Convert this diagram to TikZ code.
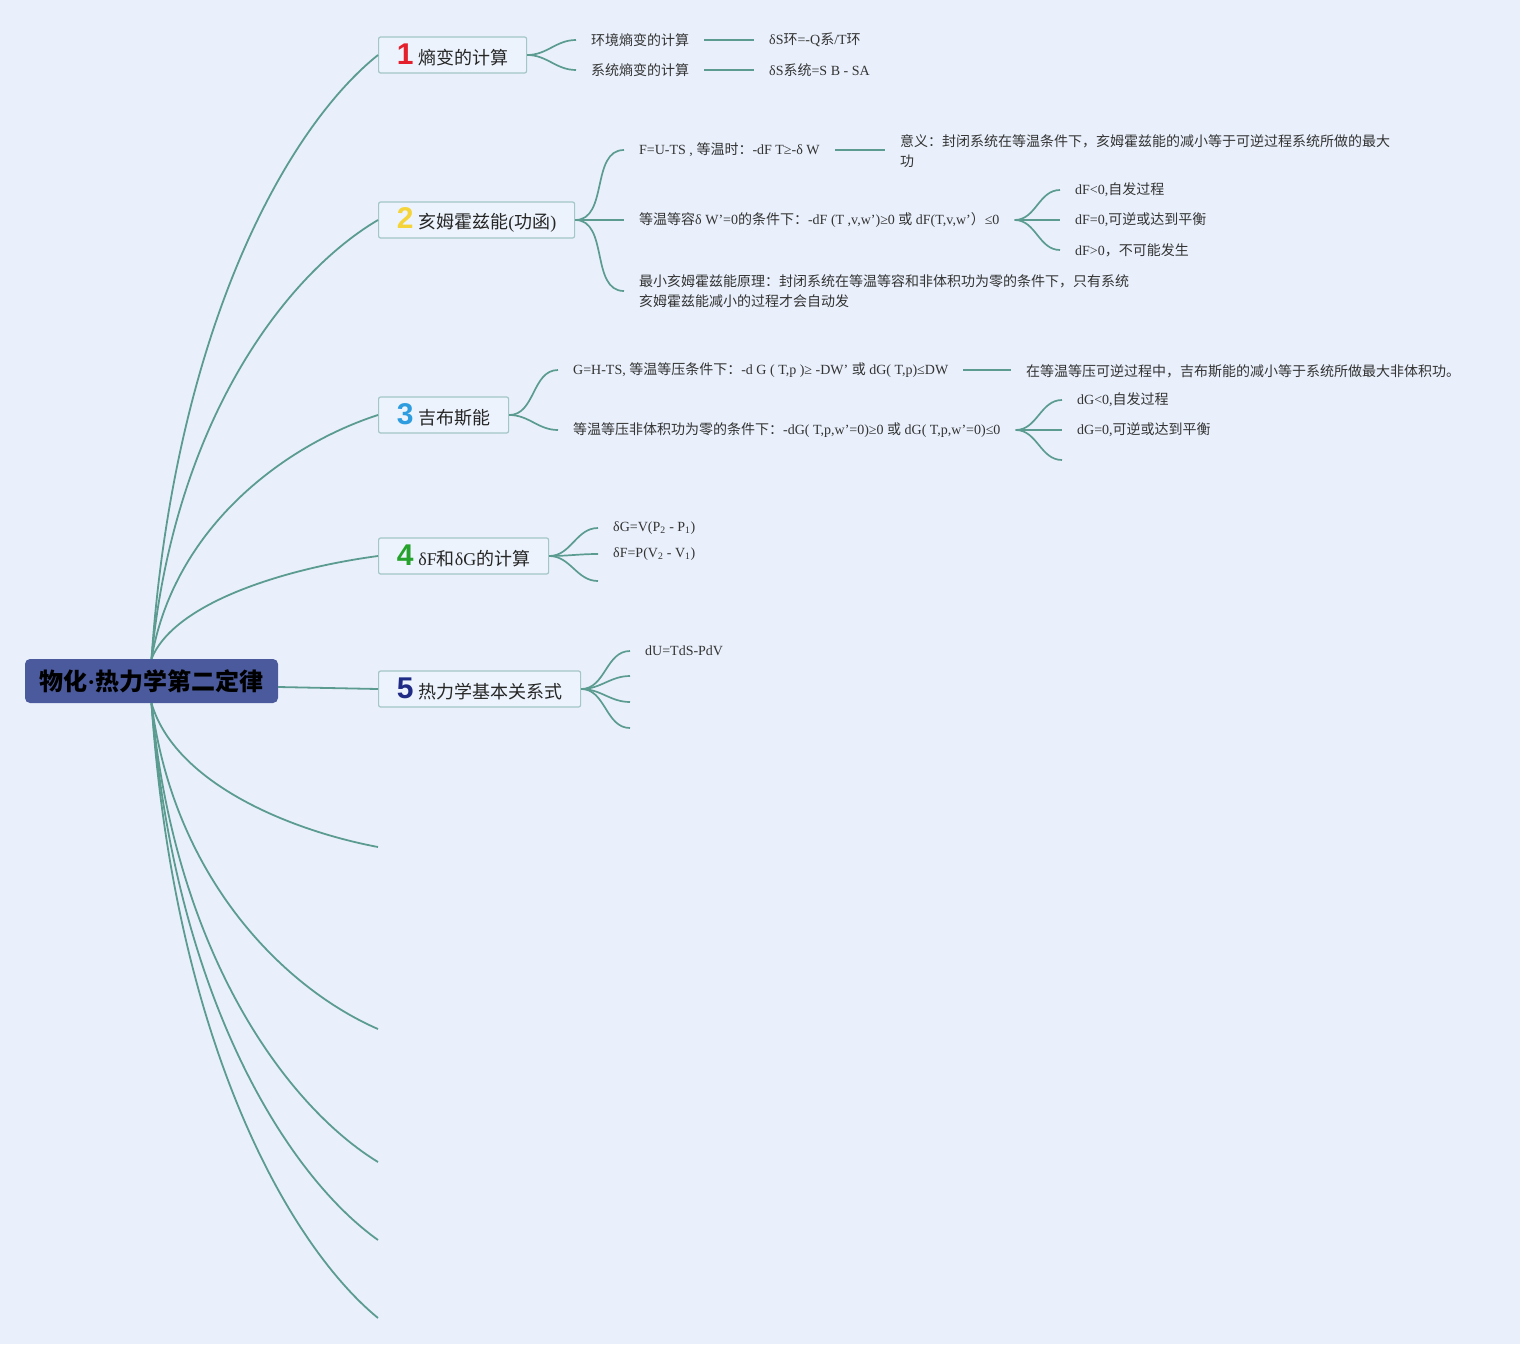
\documentclass[tikz,border=0pt]{standalone}
\usepackage{fontspec}
\setmainfont{Liberation Serif}
\newfontfamily\cjk{Noto Sans CJK SC}
\newfontfamily\numfont{Liberation Sans}
\usepackage{xcolor}
\usepackage{tikz}
\usetikzlibrary{positioning}
\usetikzlibrary{calc}

% CJK characters switch to the CJK family by themselves
\XeTeXinterchartokenstate=1
\newXeTeXintercharclass\cjkclass
\newcount\cc
\cc="3000 \loop\ifnum\cc<"3040 \XeTeXcharclass\cc=\cjkclass \advance\cc1 \repeat
\cc="4E00 \loop\ifnum\cc<"A000 \XeTeXcharclass\cc=\cjkclass \advance\cc1 \repeat
\cc="FF00 \loop\ifnum\cc<"FFF0 \XeTeXcharclass\cc=\cjkclass \advance\cc1 \repeat
\XeTeXinterchartoks 0 \cjkclass={\cjk}
\XeTeXinterchartoks 4095 \cjkclass={\cjk}
\XeTeXinterchartoks \cjkclass 0={\rmfamily}
\XeTeXinterchartoks \cjkclass 4095={\rmfamily}

\definecolor{bgblue}{HTML}{E9F0FB}
\definecolor{linecol}{HTML}{5B9B90}
\definecolor{boxline}{HTML}{A3C6C6}
\definecolor{boxfill}{HTML}{ECF3FC}
\definecolor{rootblue}{HTML}{4A5A9C}
\definecolor{txtgray}{HTML}{333333}
\definecolor{numred}{HTML}{E3202C}
\definecolor{numyellow}{HTML}{F5D43A}
\definecolor{numblue}{HTML}{2E9DDF}
\definecolor{numgreen}{HTML}{25A22B}
\definecolor{numnavy}{HTML}{1F2B84}

\newcommand{\tnum}[2]{{\color{#1}\numfont\bfseries\fontsize{30}{30}\selectfont #2}\hspace{5pt}}

\tikzset{
  branch/.style={draw=linecol, line width=1.8pt},
  fan/.style={draw=linecol, line width=1.7pt},
  rootbox/.style={fill=rootblue, rounded corners=5pt, minimum width=253, minimum height=44, inner sep=0pt, text=black, font=\fontsize{24}{28}\selectfont\bfseries},
  topic/.style={draw=boxline, fill=boxfill, line width=1.2pt, rounded corners=2pt, minimum height=36, inner xsep=0pt, inner ysep=4pt, anchor=west, text=black!85, font=\fontsize{18}{22}\selectfont},
  leaf/.style={inner xsep=15pt, inner ysep=3pt, anchor=west, align=left, text=txtgray, font=\fontsize{14}{20}\selectfont}
}

\begin{document}
\begin{tikzpicture}[x=1pt, y=-1pt]
\path[fill=bgblue] (0,0) rectangle (1520,1344);

\node[rootbox] (root) at (151.5,681) {物化·热力学第二定律};

\node[topic, minimum width=148] (t1) at (378,55) {\tnum{numred}{1}熵变的计算};
\node[topic, minimum width=196] (t2) at (378,220) {\tnum{numyellow}{2}亥姆霍兹能(功函)};
\node[topic, minimum width=130] (t3) at (378,415) {\tnum{numblue}{3}吉布斯能};
\node[topic, minimum width=170] (t4) at (378,556) {\tnum{numgreen}{4}δF和δG的计算};
\node[topic, minimum width=202] (t5) at (378,689) {\tnum{numnavy}{5}热力学基本关系式};

\coordinate (e1) at (378,847);
\coordinate (e2) at (378,1029);
\coordinate (e3) at (378,1162);
\coordinate (e4) at (378,1240);
\coordinate (e5) at (378,1318);

\draw[branch] (root.north) .. controls +(23,-332) and +(-90,72) .. (t1.west);
\draw[branch] (root.north) .. controls +(23,-241) and +(-90,53) .. (t2.west);
\draw[branch] (root.north) .. controls +(23,-134) and +(-90,29) .. (t3.west);
\draw[branch] (root.north) .. controls +(23,-57) and +(-90,12) .. (t4.west);
\draw[branch] ($(root.east)+(0,6)$) -- (t5.west);
\draw[branch] (root.south) .. controls +(23,79) and +(-90,-17) .. (e1);
\draw[branch] (root.south) .. controls +(23,179) and +(-90,-39) .. (e2);
\draw[branch] (root.south) .. controls +(23,252) and +(-90,-55) .. (e3);
\draw[branch] (root.south) .. controls +(23,295) and +(-90,-64) .. (e4);
\draw[branch] (root.south) .. controls +(23,338) and +(-90,-74) .. (e5);

% 1
\node[leaf] (s11) at (576,40) {环境熵变的计算};
\node[leaf] (s12) at (576,70) {系统熵变的计算};
\node[leaf] (d11) at (754,40) {δS环=-Q系/T环};
\node[leaf] (d12) at (754,70) {δS系统=S B - SA};
\draw[fan] (t1.east) to[out=0,in=180] (s11.west);
\draw[fan] (t1.east) to[out=0,in=180] (s12.west);
\draw[fan] (s11.east) -- (d11.west);
\draw[fan] (s12.east) -- (d12.west);

% 2
\node[leaf] (s21) at (624,150) {F=U-TS , 等温时：-dF T≥-δ W};
\node[leaf] (d21) at (885,151) {意义：封闭系统在等温条件下，亥姆霍兹能的减小等于可逆过程系统所做的最大\\功};
\node[leaf] (s22) at (624,220) {等温等容δ W'=0的条件下：-dF (T ,v,w')≥0 或 dF(T,v,w’）≤0};
\node[leaf] (d221) at (1060,190) {dF<0,自发过程};
\node[leaf] (d222) at (1060,220) {dF=0,可逆或达到平衡};
\node[leaf] (d223) at (1060,250) {dF>0，不可能发生};
\node[leaf] (s23) at (624,291) {最小亥姆霍兹能原理：封闭系统在等温等容和非体积功为零的条件下，只有系统\\亥姆霍兹能减小的过程才会自动发};
\draw[fan] (t2.east) to[out=0,in=180] (s21.west);
\draw[fan] (t2.east) to[out=0,in=180] (s22.west);
\draw[fan] (t2.east) to[out=0,in=180] (s23.west);
\draw[fan] (s21.east) -- ($(d21.west)+(0,-1)$);
\draw[fan] (s22.east) to[out=0,in=180] (d221.west);
\draw[fan] (s22.east) to[out=0,in=180] (d222.west);
\draw[fan] (s22.east) to[out=0,in=180] (d223.west);

% 3
\node[leaf] (s31) at (558,370) {G=H-TS, 等温等压条件下：-d G ( T,p )≥ -DW' 或 dG( T,p)≤DW};
\node[leaf] (d31) at (1011,371) {在等温等压可逆过程中，吉布斯能的减小等于系统所做最大非体积功。};
\node[leaf] (s32) at (558,430) {等温等压非体积功为零的条件下：-dG( T,p,w'=0)≥0 或 dG( T,p,w'=0)≤0};
\node[leaf] (d321) at (1062,400) {dG<0,自发过程};
\node[leaf] (d322) at (1062,430) {dG=0,可逆或达到平衡};
\coordinate (c323) at (1062,460);
\draw[fan] (t3.east) to[out=0,in=180] (s31.west);
\draw[fan] (t3.east) to[out=0,in=180] (s32.west);
\draw[fan] (s31.east) -- ($(d31.west)+(0,-1)$);
\draw[fan] (s32.east) to[out=0,in=180] (d321.west);
\draw[fan] (s32.east) to[out=0,in=180] (d322.west);
\draw[fan] (s32.east) to[out=0,in=180] (c323);

% 4
\node[leaf] (s41) at (598,528) {δG=V(P\textsubscript{2} - P\textsubscript{1})};
\node[leaf] (s42) at (598,554) {δF=P(V\textsubscript{2} - V\textsubscript{1})};
\coordinate (c43) at (598,581);
\draw[fan] (t4.east) to[out=0,in=180] (s41.west);
\draw[fan] (t4.east) to[out=0,in=180] (s42.west);
\draw[fan] (t4.east) to[out=0,in=180] (c43);

% 5
\node[leaf] (s51) at (630,651) {dU=TdS-PdV};
\coordinate (c52) at (630,676);
\coordinate (c53) at (630,702);
\coordinate (c54) at (630,728);
\draw[fan] (t5.east) to[out=0,in=180] (s51.west);
\draw[fan] (t5.east) to[out=0,in=180] (c52);
\draw[fan] (t5.east) to[out=0,in=180] (c53);
\draw[fan] (t5.east) to[out=0,in=180] (c54);
\end{tikzpicture}
\end{document}
